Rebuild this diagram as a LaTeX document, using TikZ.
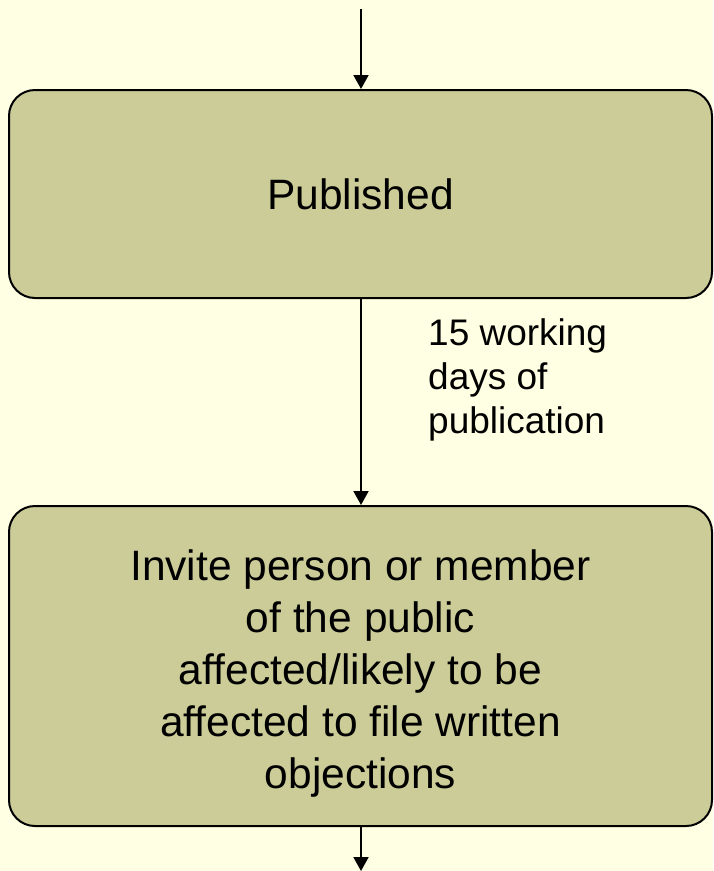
\documentclass[tikz,border=0pt]{standalone}
\usepackage{fontspec}
\setmainfont{Liberation Sans}
\usepackage{xcolor}
\usetikzlibrary{positioning,arrows.meta,calc}

\definecolor{paleyellow}{HTML}{FFFFE3}
\definecolor{boxolive}{HTML}{CCCC99}

\begin{document}
\begin{tikzpicture}[
    x=1pt, y=-1pt,
    >={Triangle[length=14pt,width=15pt]},
    stage/.style = {rectangle, rounded corners=26pt, draw=black, line width=2pt,
                    fill=boxolive, minimum width=703pt, align=center,
                    font=\fontsize{42.5}{52}\selectfont, inner sep=0pt},
    note/.style  = {font=\fontsize{37}{44}\selectfont, align=left, inner sep=0pt},
    flow/.style  = {line width=2pt, ->},
]
\useasboundingbox (0,0) rectangle (713,871);
\fill[paleyellow] (0,0) rectangle (713,871);

\node[stage, minimum height=208pt] (pub)    at (360.5,194) {Published};
\node[stage, minimum height=320pt] (invite) at (360.5,666)
     {\rule{0pt}{45pt}Invite person or member\\ of the public\\ affected/likely to be\\
      affected to file written\\ objections};

\coordinate (top) at (361,9);
\coordinate (bot) at (361,871);

\draw[flow] (top) -- (top |- pub.north);
\draw[flow] (pub.south -| top) -- (invite.north -| top);
\draw[flow] (invite.south -| top) -- (bot);

\node[note, anchor=base west] (days) at (428,433)
     {15 working\\ days of\\ publication};
\end{tikzpicture}
\end{document}
